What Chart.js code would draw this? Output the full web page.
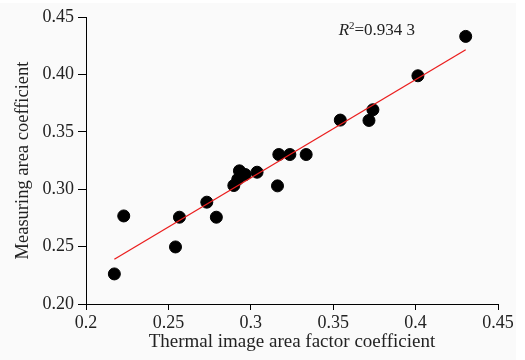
<!DOCTYPE html>
<html>
<head>
<meta charset="utf-8">
<script src="https://cdn.jsdelivr.net/npm/chart.js@4"></script>
<style>
  html, body { margin: 0; padding: 0; background: #fff; }
  #wrap { width: 525px; height: 360px; }
</style>
</head>
<body>
<div id="wrap"><canvas id="myChart"></canvas></div>
<script>
// measured points
const thermalX = [0.2172, 0.2229, 0.2543, 0.2567, 0.2733, 0.2791, 0.2897, 0.2921, 0.2931, 0.2966,
                  0.3038, 0.3162, 0.3170, 0.3237, 0.3336, 0.3543, 0.3717, 0.3741, 0.4014, 0.4304];
const measuredY = [0.2262, 0.2767, 0.2497, 0.2756, 0.2887, 0.2756, 0.3032, 0.3087, 0.3160, 0.3128,
                   0.3148, 0.3029, 0.3302, 0.3302, 0.3302, 0.3602, 0.3599, 0.3692, 0.3988, 0.4331];

// fitted line ends
const fitX = [0.2172, 0.4304];
const fitY = [0.2390, 0.4215];

const xTickLabels = ['0.2', '0.25', '0.3', '0.35', '0.4', '0.45'];
const yTickLabels = ['0.20', '0.25', '0.30', '0.35', '0.40', '0.45'];
const r2Text = '=0.934 3';

const serif = "'Liberation Serif', 'Times New Roman', serif";

const bgPlugin = {
    id: 'bg',
    beforeDraw(chart) {
        const c = chart.ctx;
        c.save();
        c.fillStyle = '#fafafa';
        c.fillRect(0, 3, 516, 357);
        c.restore();
    }
};

const r2Plugin = {
    id: 'r2',
    afterDraw(chart) {
        const c = chart.ctx;
        const x = chart.scales.x.getPixelForValue(0.3533);
        const y = chart.scales.y.getPixelForValue(0.4378);
        c.save();
        c.fillStyle = '#222';
        c.textBaseline = 'middle';
        c.font = 'italic 17px ' + serif;
        c.fillText('R', x, y);
        let w = c.measureText('R').width;
        c.font = '11px ' + serif;
        c.fillText('2', x + w, y - 5);
        w += c.measureText('2').width;
        c.font = '17px ' + serif;
        c.fillText(r2Text, x + w, y);
        c.restore();
    }
};

const ctx = document.getElementById('myChart');

new Chart(ctx, {
    type: 'scatter',
    data: {
        datasets: [{
            data: fitX.map((v, i) => ({ x: v, y: fitY[i] })),
            showLine: true,
            borderColor: 'rgb(235, 30, 30)',
            borderWidth: 1.3,
            pointRadius: 0,
            fill: false
        }, {
            data: thermalX.map((v, i) => ({ x: v, y: measuredY[i] })),
            backgroundColor: '#000',
            borderColor: '#000',
            pointRadius: 6,
            pointHoverRadius: 6
        }]
    },
    options: {
        responsive: true,
        maintainAspectRatio: false,
        animation: false,
        layout: { padding: { left: 0, top: 17, right: 27, bottom: 0 } },
        plugins: {
            legend: { display: false },
            tooltip: { enabled: false }
        },
        scales: {
            x: {
                min: 0.2,
                max: 0.45,
                afterFit(scale) { scale.height = 56; },
                border: { color: '#000', width: 1 },
                grid: { drawOnChartArea: false, tickLength: 6, color: '#000' },
                ticks: {
                    stepSize: 0.05,
                    color: '#222',
                    padding: 2,
                    font: { family: serif, size: 18 },
                    callback: (v, i) => xTickLabels[i]
                },
                title: {
                    display: true,
                    text: 'Thermal image area factor coefficient',
                    color: '#222',
                    font: { family: serif, size: 19 },
                    padding: { top: 0, bottom: 7 }
                }
            },
            y: {
                min: 0.2,
                max: 0.45,
                afterFit(scale) { scale.width = 86; },
                border: { color: '#000', width: 1 },
                grid: { drawOnChartArea: false, tickLength: 8, color: '#000' },
                ticks: {
                    stepSize: 0.05,
                    color: '#222',
                    padding: 4,
                    font: { family: serif, size: 18 },
                    callback: (v, i) => yTickLabels[i]
                },
                title: {
                    display: true,
                    text: 'Measuring area coefficient',
                    color: '#222',
                    font: { family: serif, size: 18.5 },
                    padding: { top: 12, bottom: 0 }
                }
            }
        }
    },
    plugins: [bgPlugin, r2Plugin]
});
</script>
</body>
</html>
